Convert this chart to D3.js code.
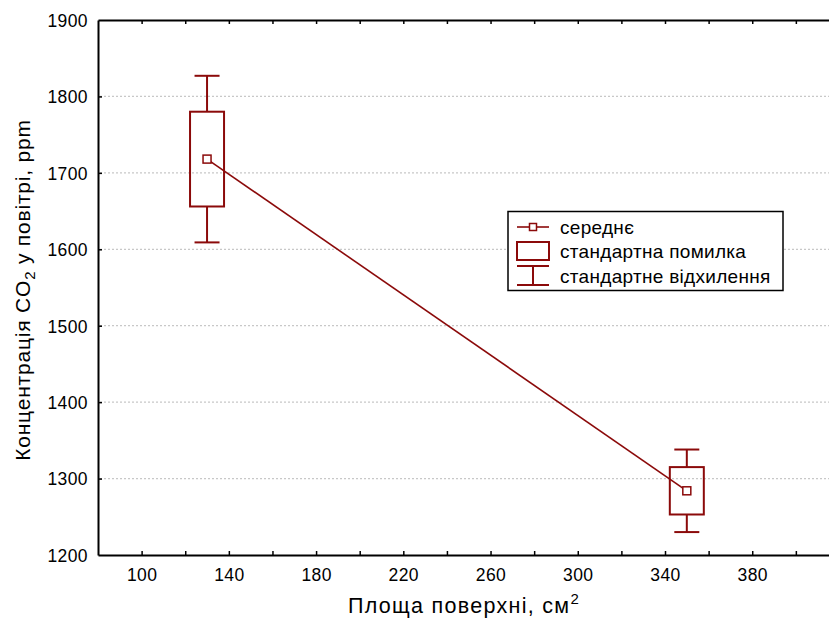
<!DOCTYPE html>
<html>
<head>
<meta charset="utf-8">
<script src="https://cdn.jsdelivr.net/npm/d3@7/dist/d3.min.js"></script>
<style>
html,body{margin:0;padding:0;background:#fff;}
svg{display:block;font-family:"Liberation Sans",Arial,sans-serif;}
</style>
</head>
<body>
<svg id="chart" width="829" height="626"></svg>
<script>
// Data
const areas = [130, 350];
const means = [1718, 1284];
const stdErr = [62, 31];
const stdDev = [109, 54];
const xTickValues = [100, 140, 180, 220, 260, 300, 340, 380];
const xMinorTicks = [80, 100, 120, 140, 160, 180, 200, 220, 240, 260, 280, 300, 320, 340, 360, 380, 400];
const yTickValues = [1200, 1300, 1400, 1500, 1600, 1700, 1800, 1900];
const legendLabels = ["середнє", "стандартна помилка", "стандартне відхилення"];

(function () {
const color = "#8B0A0A";
const svg = d3.select("#chart");
const pL = 98, pR = 829, pT = 20, pB = 555;

const x = d3.scaleLinear().domain([80, 415.2]).range([pL, pR]);
const y = d3.scaleLinear().domain([1200, 1900]).range([pB, pT]);

// gridlines
svg.append("g").selectAll("line")
  .data(yTickValues.filter(v => v > 1200 && v < 1900))
  .join("line")
  .attr("x1", pL + 2).attr("x2", pR)
  .attr("y1", d => y(d)).attr("y2", d => y(d))
  .attr("stroke", "#c8c8c8").attr("stroke-width", 1.2)
  .attr("stroke-dasharray", "2,2");

// axes
const xAxisB = d3.axisBottom(x).tickValues(xMinorTicks).tickSizeInner(-4).tickSizeOuter(0)
  .tickFormat(d => xTickValues.includes(d) ? d3.format("d")(d) : "").tickPadding(14);
const gxb = svg.append("g").attr("transform", `translate(0,${pB})`).call(xAxisB);
const xAxisT = d3.axisTop(x).tickValues(xMinorTicks).tickSizeInner(-4).tickSizeOuter(0).tickFormat("");
const gxt = svg.append("g").attr("transform", `translate(0,${pT})`).call(xAxisT);
const yAxis = d3.axisLeft(y).tickValues(yTickValues).tickFormat(d3.format("d"))
  .tickSizeInner(-4).tickSizeOuter(0).tickPadding(10);
const gy = svg.append("g").attr("transform", `translate(${pL},0)`).call(yAxis);

[gxb, gxt, gy].forEach(g => {
  g.select(".domain").attr("stroke", "#000").attr("stroke-width", 2);
  g.selectAll(".tick line").attr("stroke", "#000").attr("stroke-width", 1.5);
  g.selectAll(".tick text").attr("fill", "#000").style("font-size", "17.5px")
   .style("letter-spacing", "0.4px")
   .style("font-family", "'Liberation Sans', Arial, sans-serif");
});
gxb.selectAll(".tick text").attr("dy", "0.71em");
gy.selectAll(".tick text").attr("dy", "0.36em");
gxb.selectAll(".tick").filter(d => d === 80).remove();
gxt.selectAll(".tick").filter(d => d === 80).remove();
gy.selectAll(".tick line").filter(d => d === 1200 || d === 1900).remove();

// mean line
svg.append("path")
  .datum(areas.map((a, i) => [a, means[i]]))
  .attr("d", d3.line().x(d => x(d[0])).y(d => y(d[1])))
  .attr("fill", "none").attr("stroke", color).attr("stroke-width", 1.6);

const boxW = 34, capW = 25;
const groups = svg.append("g").selectAll("g").data(areas.map((a, i) => ({a, m: means[i], se: stdErr[i], sd: stdDev[i]})))
  .join("g");
groups.append("line").attr("x1", d => x(d.a)).attr("x2", d => x(d.a))
  .attr("y1", d => y(d.m + d.sd)).attr("y2", d => y(d.m + d.se))
  .attr("stroke", color).attr("stroke-width", 2);
groups.append("line").attr("x1", d => x(d.a)).attr("x2", d => x(d.a))
  .attr("y1", d => y(d.m - d.se)).attr("y2", d => y(d.m - d.sd))
  .attr("stroke", color).attr("stroke-width", 2);
groups.append("line").attr("x1", d => x(d.a) - capW / 2).attr("x2", d => x(d.a) + capW / 2)
  .attr("y1", d => y(d.m + d.sd)).attr("y2", d => y(d.m + d.sd))
  .attr("stroke", color).attr("stroke-width", 2);
groups.append("line").attr("x1", d => x(d.a) - capW / 2).attr("x2", d => x(d.a) + capW / 2)
  .attr("y1", d => y(d.m - d.sd)).attr("y2", d => y(d.m - d.sd))
  .attr("stroke", color).attr("stroke-width", 2);
groups.append("rect").attr("x", d => x(d.a) - boxW / 2).attr("width", boxW)
  .attr("y", d => y(d.m + d.se)).attr("height", d => y(d.m - d.se) - y(d.m + d.se))
  .attr("fill", "none").attr("stroke", color).attr("stroke-width", 2);
groups.append("rect").attr("x", d => x(d.a) - 4).attr("y", d => y(d.m) - 4)
  .attr("width", 8).attr("height", 8)
  .attr("fill", "#fff").attr("stroke", color).attr("stroke-width", 1.5);

// legend
const lg = svg.append("g");
lg.append("rect").attr("x", 508).attr("y", 211.5).attr("width", 275).attr("height", 79)
  .attr("fill", "#fff").attr("stroke", "#000").attr("stroke-width", 1.5);
const rowsY = [227, 251, 276];
lg.append("line").attr("x1", 517).attr("x2", 549).attr("y1", rowsY[0]).attr("y2", rowsY[0])
  .attr("stroke", color).attr("stroke-width", 1.6);
lg.append("rect").attr("x", 529.5).attr("y", rowsY[0] - 3.5).attr("width", 7).attr("height", 7)
  .attr("fill", "#fff").attr("stroke", color).attr("stroke-width", 1.5);
lg.append("rect").attr("x", 517).attr("y", 242).attr("width", 32).attr("height", 18)
  .attr("fill", "none").attr("stroke", color).attr("stroke-width", 2);
lg.append("line").attr("x1", 517).attr("x2", 549).attr("y1", 266).attr("y2", 266).attr("stroke", color).attr("stroke-width", 2);
lg.append("line").attr("x1", 517).attr("x2", 549).attr("y1", 285).attr("y2", 285).attr("stroke", color).attr("stroke-width", 2);
lg.append("line").attr("x1", 533).attr("x2", 533).attr("y1", 266).attr("y2", 285).attr("stroke", color).attr("stroke-width", 2);
lg.selectAll("text.lab").data(legendLabels).join("text").attr("class", "lab")
  .attr("x", 560).attr("y", (d, i) => rowsY[i]).attr("dy", "0.35em")
  .style("font-size", "19px").style("letter-spacing", "0.3px").attr("fill", "#000").text(d => d);

// axis titles
const xt = svg.append("text").attr("x", 464).attr("y", 613).attr("text-anchor", "middle")
  .style("font-size", "21.5px").style("letter-spacing", "1.3px").attr("fill", "#000");
xt.append("tspan").text("Площа поверхні, см");
xt.append("tspan").attr("dy", "-9").style("font-size", "15px").text("2");

const yt = svg.append("text").attr("transform", "translate(30,290) rotate(-90)").attr("text-anchor", "middle")
  .style("font-size", "21px").style("letter-spacing", "0.8px").attr("fill", "#000");
yt.append("tspan").text("Концентрація CO");
yt.append("tspan").attr("dy", "5").style("font-size", "15px").text("2");
yt.append("tspan").attr("dy", "-5").text(" у повітрі, ppm");
})();
</script>
</body>
</html>
